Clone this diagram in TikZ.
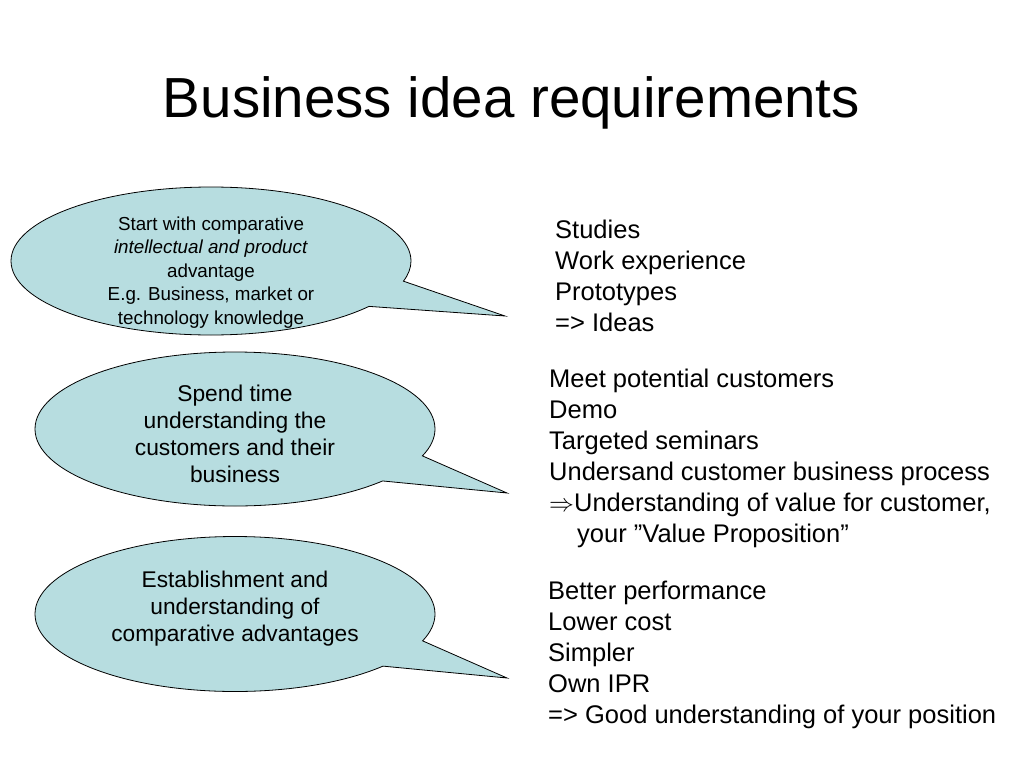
\documentclass[tikz,border=0pt]{standalone}
\usepackage{fontspec}
\setmainfont{Liberation Sans}
\usetikzlibrary{shapes.callouts, positioning}
\definecolor{bubblecyan}{RGB}{183,221,224}

\tikzset{
  bubble/.style={ellipse callout, draw=black, fill=bubblecyan, line width=0.8pt,
    minimum width=400pt, inner sep=0pt, callout pointer arc=22},
  bubbletext/.style={align=center, inner sep=0pt, anchor=base},
  listtext/.style={align=left, inner sep=0pt, anchor=base west,
    font=\fontsize{25.5}{31}\selectfont}
}

\begin{document}
\begin{tikzpicture}[x=1pt, y=-1pt]
  \useasboundingbox (0,0) rectangle (1024,768);

  % title
  \node[anchor=base, inner sep=0pt, font=\fontsize{56.5}{60}\selectfont] (title) at (511.5,117) {Business idea requirements};

  % speech bubbles
  \coordinate (tipA) at (505,316);
  \coordinate (tipB) at (507,493);
  \coordinate (tipC) at (507,678);
  \node[bubble, minimum height=148pt, callout absolute pointer={(tipA)}] (bubbleA) at (211,261) {};
  \node[bubble, minimum height=154pt, callout absolute pointer={(tipB)}] (bubbleB) at (235,429) {};
  \node[bubble, minimum height=155pt, callout absolute pointer={(tipC)}] (bubbleC) at (235,614) {};

  % bubble texts (anchored at the baseline of their last line)
  \node[bubbletext, font=\fontsize{18.8}{23.5}\selectfont] (textA) at (211,324) {
    Start with comparative\\
    \textit{intellectual and product}\\
    advantage\\
    E.g. Business, market or\\
    technology knowledge};
  \node[bubbletext, font=\fontsize{22.8}{26.7}\selectfont] (textB) at (235,482) {
    Spend time\\
    understanding the\\
    customers and their\\
    business};
  \node[bubbletext, font=\fontsize{22.7}{27}\selectfont] (textC) at (235,641) {
    Establishment and\\
    understanding of\\
    comparative advantages};

  % lists on the right
  \node[listtext] (listA) at (555,331) {
    Studies\\
    Work experience\\
    Prototypes\\
    => Ideas};
  \node[listtext] (listB) at (549,542) {
    Meet potential customers\\
    Demo\\
    Targeted seminars\\
    Undersand customer business process\\
    $\Rightarrow$Understanding of value for customer,\\
    \hspace*{28pt}your ”Value Proposition”};
  \node[listtext] (listC) at (548,723) {
    Better performance\\
    Lower cost\\
    Simpler\\
    Own IPR\\
    => Good understanding of your position};
\end{tikzpicture}
\end{document}
